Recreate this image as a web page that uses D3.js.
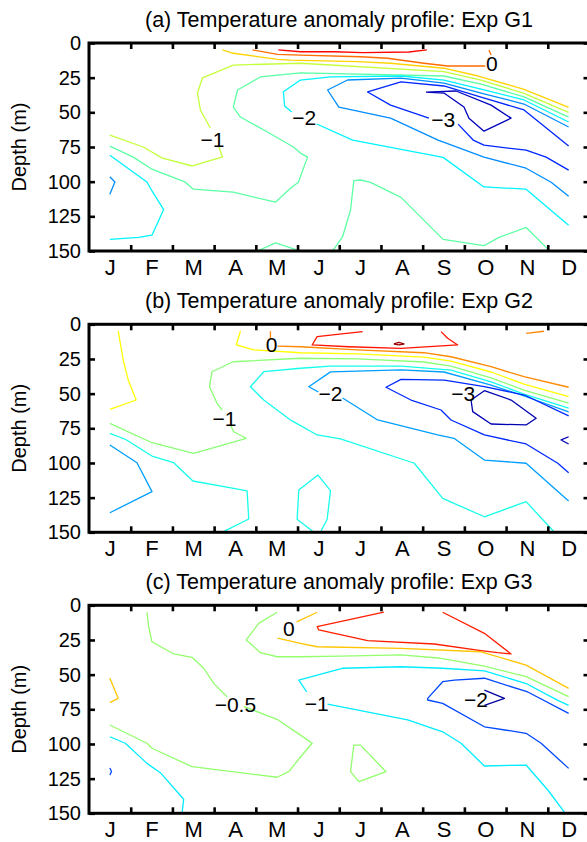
<!DOCTYPE html>
<html><head><meta charset="utf-8">
<script src="https://cdn.jsdelivr.net/npm/d3@7"></script>
<style>
body{margin:0;background:#fff}
svg{display:block}
text{font-family:"Liberation Sans",Arial,Helvetica,sans-serif;fill:#000}
</style></head>
<body><svg id="c" width="587" height="842"></svg>
<script>
// ---------- data ----------
const months = ["J","F","M","A","M","J","J","A","S","O","N","D"];
const monthIdx = [1,2,3,4,5,6,7,8,9,10,11,12];
const monthBounds = [1.5,2.5,3.5,4.5,5.5,6.5,7.5,8.5,9.5,10.5,11.5];
const depthTicks = [0,25,50,75,100,125,150];
const titles = ["(a) Temperature anomaly profile: Exp G1",
                "(b) Temperature anomaly profile: Exp G2",
                "(c) Temperature anomaly profile: Exp G3"];

// contour polylines [month, depth]; null = break for inline label
const linesG1 = [
 {v:0.5, p:[[5.04,5],[5.57,6.3],[6.37,6.3],[7.06,7],[8.17,6.5],[8.6,5]]},
 {v:0, p:[[4.42,5],[5.02,8.2],[5.57,8.7],[7.01,9.9],[7.66,11],[8.53,14.6],[9.1,16.6],[10.0,16.6],null,[10.14,8.7],[10.09,5]]},
 {v:-0.5, p:[[3.7,5],[3.96,7.4],[5.02,11.8],[5.33,12.3],[6.94,13.5],[7.73,14.6],[9.01,18.2],[9.83,23.8],[10.93,33.4],[12,46.4]]},
 {v:-1, p:[[1,66.4],[1.8,75],[2.26,83],[2.98,88.7],[3.7,82.2],[3.6,73.6],null,[3.41,61.3],[3.17,48.3],[3.1,36.1],[3.22,25.2],[3.96,15.9],[5.57,14.6],[9.01,20.7],[9.9,26.7],[10.93,36.3],[12,50]]},
 {v:-1.5, p:[[1,74.4],[1.56,82.3],[2.01,91],[2.81,100.4],[3,105.4],[3.96,107.6],[4.97,114.8],[5.33,104.7],[5.52,100.4],[5.74,82.3],[5.57,79.4],[5.4,75],[4.78,64.2],[4.13,53.4],[3.96,46.2],[4.06,33.9],[4.61,24.5],[5.57,21.6],[9.01,23.8],[9.9,29.6],[10.93,38.9],[12,53.4]]},
 {v:-1.5, p:[[4.54,150],[4.97,144.2],[5.57,150]]},
 {v:-1.5, p:[[6.34,150],[6.58,139.7],[6.77,120.4],[6.85,99.3],[7.01,98.8],[7.25,100.5],[7.98,111.3],[8.99,141.6],[9.97,146.2],[10.33,140.2],[10.98,133],[11.46,147.4],[11.53,150]]},
 {v:-2, p:[[12,57],[10.93,41.1],[9.9,33.2],[9.01,26.7],[7.98,23.8],[6.29,24.5],[5.57,26.7],[5.16,35.2],[5.19,45.5],[5.36,49.8],null,[5.96,58.4],[6.82,70],[8.99,82.5],[9.97,103.8],[10.98,105.4],[12,131.4]]},
 {v:-2, p:[[1,80.9],[1.89,100.2],[2.01,106.7],[2.29,120.1],[2.01,138.6],[1.69,140.2],[1,141.6]]},
 {v:-2.5, p:[[1,96.5],[1.12,100.2],[1,109.1]]},
 {v:-2.5, p:[[12,60.6],[10.93,44],[9.9,36.1],[9.01,28.9],[7.98,25.3],[6.7,26.7],[6.22,33.9],[6.49,46.2],[7.73,54.2],[8.87,70],[9.97,82.3],[10.98,90.3],[11.58,100.4],[12,110.5]]},
 {v:-3, p:[[12,74.3],[10.93,48.3],[9.9,39],[9.01,31],[7.98,28.1],[7.18,35.3],[7.73,44.8],[8.65,54.2],null,[9.35,58.5],[9.71,70],[9.97,73.7],[10.98,77.3],[11.46,82.3],[12,91.7]]},
 {v:-3.5, p:[[8.58,35.4],[9.01,36.1],[9.49,46.2],[9.61,54.2],[9.97,63.6],[10.62,54.2],[10.14,44.8],[9.3,34.6],[8.58,35.4]]}
];
const labelsG1 = [
 {t:"0", m:10.16, d:14.4}, {t:"\u22121", m:3.46, d:69.2},
 {t:"\u22122", m:5.66, d:54.0}, {t:"\u22123", m:8.99, d:55.2}
];

const linesG2 = [
 {v:1, p:[[7.81,14.2],[7.93,13.1],[8.05,14.2],[7.93,14.9],[7.81,14.2]]},
 {v:0.5, p:[[7.06,5.3],[6.45,7.2],[5.97,8.9],[5.85,14.9],[6.73,16.2],[7.98,17.3],[9.34,14.9],[9.1,10.1],[8.94,5.3]]},
 {v:0, p:[[4.85,5],[4.85,10.5],null,[5.02,15.7],[5.57,16.2],[6.94,18.5],[8.53,20.5],[9.18,23.4],[10.14,30.6],[10.93,37.8],[12,45.4]]},
 {v:0, p:[[10.98,6.5],[11.41,5]]},
 {v:-0.5, p:[[1.2,5],[1.32,25.7],[1.44,40.2],[1.63,54.6],[1,61.3]]},
 {v:-0.5, p:[[4.13,5],[4.03,14.9],[4.45,18.5],[5.57,20.5],[6.94,21.4],[8.53,23.6],[9.18,26.5],[10.14,34.4],[10.93,43.1],[12,52.2]]},
 {v:-1, p:[[1,71.4],[2.01,85.4],[3.01,93],[4.27,82.2],[3.97,77.5],[3.89,72.6],null,[3.69,61.8],[3.57,57],[3.39,45],[3.45,34.2],[3.96,27],[5.57,24.5],[6.94,25],[8.53,27.2],[9.18,30.1],[10.14,38.7],[10.93,47.4],[12,56.8]]},
 {v:-1.5, p:[[12,60.4],[10.93,50.3],[10.14,41.6],[9.18,33],[7.98,30.1],[6.29,30.1],[5.57,31.7],[4.69,34.2],[4.37,45],[4.69,54.6],[5.33,69],[5.4,70.2],[5.97,79.8],[6.53,82.7],[8.3,100.2],[8.98,125.5],[9.98,138.8],[10.98,127.9],[11.66,150]]},
 {v:-1.5, p:[[1,78.6],[1.37,82.9],[2.01,95],[2.53,99.8],[2.99,113],[3.97,118.3],[4.29,120.2],[4.33,140.4],[3.69,150]]},
 {v:-1.5, p:[[5.89,150],[5.49,140.6],[5.53,119.5],[5.99,108.7],[6.29,120],[6.21,140.6],[6.05,150]]},
 {v:-2, p:[[12,63.2],[10.93,51.7],[10.14,43.8],[9.01,34.4],[7.98,32.9],[6.29,34.3],[5.77,45],[6.0,48.8],null,[6.58,53.2],[7.42,69],[8.86,79.8],[9.25,82.2],[9.98,97.9],[10.98,100.2],[12,127.4]]},
 {v:-2, p:[[1,87],[1.65,99.8],[2.01,120.7],[1,135.9]]},
 {v:-2.5, p:[[12,66.1],[10.94,51],[9.98,45],[9.02,40.2],[7.98,39.7],[7.62,45.4],[8.22,54.6],[8.94,61.8],[9.18,69],[9.98,79.8],[10.98,86.3],[11.74,100.2],[12,107]]},
 {v:-3, p:[[9.66,54.6],[9.98,47.9],[10.62,54.6],[11.22,67.8],[10.98,72.6],[10.14,71.9],[9.7,63],[9.66,54.6]]},
 {v:-3, p:[[12,81.1],[11.82,83.4],[12,86.3]]}
];
const labelsG2 = [
 {t:"0", m:4.88, d:14.2}, {t:"\u22121", m:3.75, d:67.8},
 {t:"\u22122", m:6.29, d:49.9}, {t:"\u22123", m:9.47, d:50.0}
];

const linesG3 = [
 {v:0.5, p:[[7.57,5],[5.97,15.4],[6.01,17.8],[7.18,25.5],[8.78,27.9],[9.9,32.7],[10.3,34.2],[10.62,35.1],[9.98,20.2],[8.98,5]]},
 {v:0, p:[[5.97,5],[5.48,12],null,[5.02,23.6],[5.57,27.4],[5.97,29.9],[7.98,31],[9.9,33.5],[10.98,43.1],[12,59.9]]},
 {v:0, p:[[1,52.6],[1.2,67.1],[1,70.2]]},
 {v:-0.5, p:[[1.89,5],[1.93,15.4],[2.01,26.3],[2.53,35.1],[2.97,37.5],[3.25,45.4],[3.49,56.3],[3.81,65.9],null,[4.21,73.1],[5.01,82.2],[5.57,93.6],[5.85,99.5],[5.57,109.4],[5.29,120],[5.01,124],[2.97,116.4],[2.01,103.1],[1.89,99.5],[1,86.3]]},
 {v:-0.5, p:[[5.01,5],[4.57,13],[4.27,25],[4.61,34.2],[5.01,37.1],[5.57,37.1],[6.53,36.6],[7.98,35.8],[8.94,38.2],[9.98,43.8],[10.98,51.5],[12,65.9]]},
 {v:-0.5, p:[[6.85,100.8],[7.01,100.8],[7.62,120],[6.97,127.2],[6.77,120],[6.85,100.8]]},
 {v:-1, p:[[12,72.2],[11.74,68.6],[10.98,56.4],[9.98,47.3],[8.98,45.4],[7.98,44.3],[6.57,45.4],[5.53,53.9],[5.72,62.5],null,[6.22,71.2],[8.14,82.7],[8.98,91.2],[9.42,99.5],[9.98,115.9],[10.98,115.2],[11.5,133.2],[11.92,150]]},
 {v:-1, p:[[1,94.8],[1.37,99.5],[1.89,114],[2.21,120.7],[2.77,139.9],[2.73,150]]},
 {v:-1.5, p:[[12,77.9],[11.02,62.5],[9.98,52.6],[9.26,53.9],[8.98,55.1],[8.62,67.1],[8.62,68.3],[8.98,70.7],[9.98,87.6],[10.98,92.3],[11.34,99.5],[12,117.6]]},
 {v:-1.5, p:[[1,117.3],[1.04,119.9],[1,122.4]]},
 {v:-2, p:[[9.98,61.1],[10.46,67.1],[9.98,72.1]]}
];
const labelsG3 = [
 {t:"0", m:5.29, d:16.4}, {t:"\u22120.5", m:4.01, d:71.8},
 {t:"\u22121", m:5.96, d:70.5}, {t:"\u22122", m:9.78, d:67.6}
];

const colorRanges = [[-3.8,1.14],[-3.22,1.13],[-2.1,0.98]];

// ---------- drawing ----------
const svg = d3.select("#c");
const x = d3.scaleLinear().domain([0.5,12.5]).range([89,589.5]);
const jet = d3.scaleLinear()
  .domain([0,0.125,0.375,0.625,0.875,1])
  .range(["#00007f","#0000ff","#00ffff","#ffff00","#ff0000","#7f0000"])
  .clamp(true);

const panels = [
 {lines:linesG1, labels:labelsG1, title:titles[0], top:43},
 {lines:linesG2, labels:labelsG2, title:titles[1], top:324.3},
 {lines:linesG3, labels:labelsG3, title:titles[2], top:605.3}
];

panels.forEach((P,i)=>{
  const top=P.top, bot=top+208;
  const y = d3.scaleLinear().domain([0,150]).range([top,bot]);
  const tScale = d3.scaleLinear().domain(colorRanges[i]).range([0,1]);
  const g = svg.append("g");
  const cid = "clip"+i;
  svg.append("clipPath").attr("id",cid).append("rect")
    .attr("x",89).attr("y",top).attr("width",500).attr("height",208);

  const line = d3.line().defined(d=>d!==null).x(d=>x(d[0])).y(d=>y(d[1]));
  g.append("g").attr("clip-path",`url(#${cid})`)
    .selectAll("path").data(P.lines).join("path")
    .attr("d",d=>line(d.p)).attr("fill","none")
    .attr("stroke",d=>jet(tScale(d.v))).attr("stroke-width",1.3)
    .attr("stroke-linejoin","round");

  g.selectAll("text.cl").data(P.labels).join("text").attr("class","cl")
    .attr("x",d=>x(d.m)).attr("y",d=>y(d.d)).attr("dy","0.36em")
    .attr("text-anchor","middle").attr("font-size",21).text(d=>d.t);

  // title
  g.append("text").attr("x",339).attr("y",top-16).attr("text-anchor","middle")
    .attr("font-size",21.5).text(P.title);

  // y axis labels
  const ya = d3.axisLeft(y).tickValues(depthTicks).tickSize(-6).tickPadding(8);
  const yg = g.append("g").attr("transform","translate(89,0)").call(ya);
  yg.select(".domain").remove();
  yg.selectAll("line").attr("stroke","#000").attr("stroke-width",2.6);
  yg.selectAll("text").attr("font-size",20).attr("font-family",'"Liberation Sans",Arial,sans-serif');
  // right ticks
  const yr = d3.axisRight(y).tickValues(depthTicks).tickSize(-6).tickFormat("");
  const yrg = g.append("g").attr("transform","translate(589.5,0)").call(yr);
  yrg.select(".domain").remove();
  yrg.selectAll("line").attr("stroke","#000").attr("stroke-width",2.6);

  // bottom month labels
  const xa = d3.axisBottom(x).tickValues(monthIdx).tickSize(0).tickPadding(8)
     .tickFormat(d=>months[d-1]);
  const xg = g.append("g").attr("transform",`translate(0,${bot})`).call(xa);
  xg.select(".domain").remove();
  xg.selectAll("text").attr("font-size",22).attr("font-family",'"Liberation Sans",Arial,sans-serif');
  // boundary ticks bottom & top
  const xb = d3.axisBottom(x).tickValues(monthBounds).tickSize(-6).tickFormat("");
  const xbg = g.append("g").attr("transform",`translate(0,${bot})`).call(xb);
  xbg.select(".domain").remove();
  xbg.selectAll("line").attr("stroke","#000").attr("stroke-width",2.6);
  const xt = d3.axisTop(x).tickValues(monthBounds).tickSize(-6).tickFormat("");
  const xtg = g.append("g").attr("transform",`translate(0,${top})`).call(xt);
  xtg.select(".domain").remove();
  xtg.selectAll("line").attr("stroke","#000").attr("stroke-width",2.6);

  // spines
  g.append("rect").attr("x",89).attr("y",top).attr("width",500.5).attr("height",208)
    .attr("fill","none").attr("stroke","#000").attr("stroke-width",3);

  // y label
  g.append("text").attr("transform",`translate(26,${(top+bot)/2}) rotate(-90)`)
    .attr("text-anchor","middle").attr("font-size",20).text("Depth (m)");
});
</script>
</body></html>
